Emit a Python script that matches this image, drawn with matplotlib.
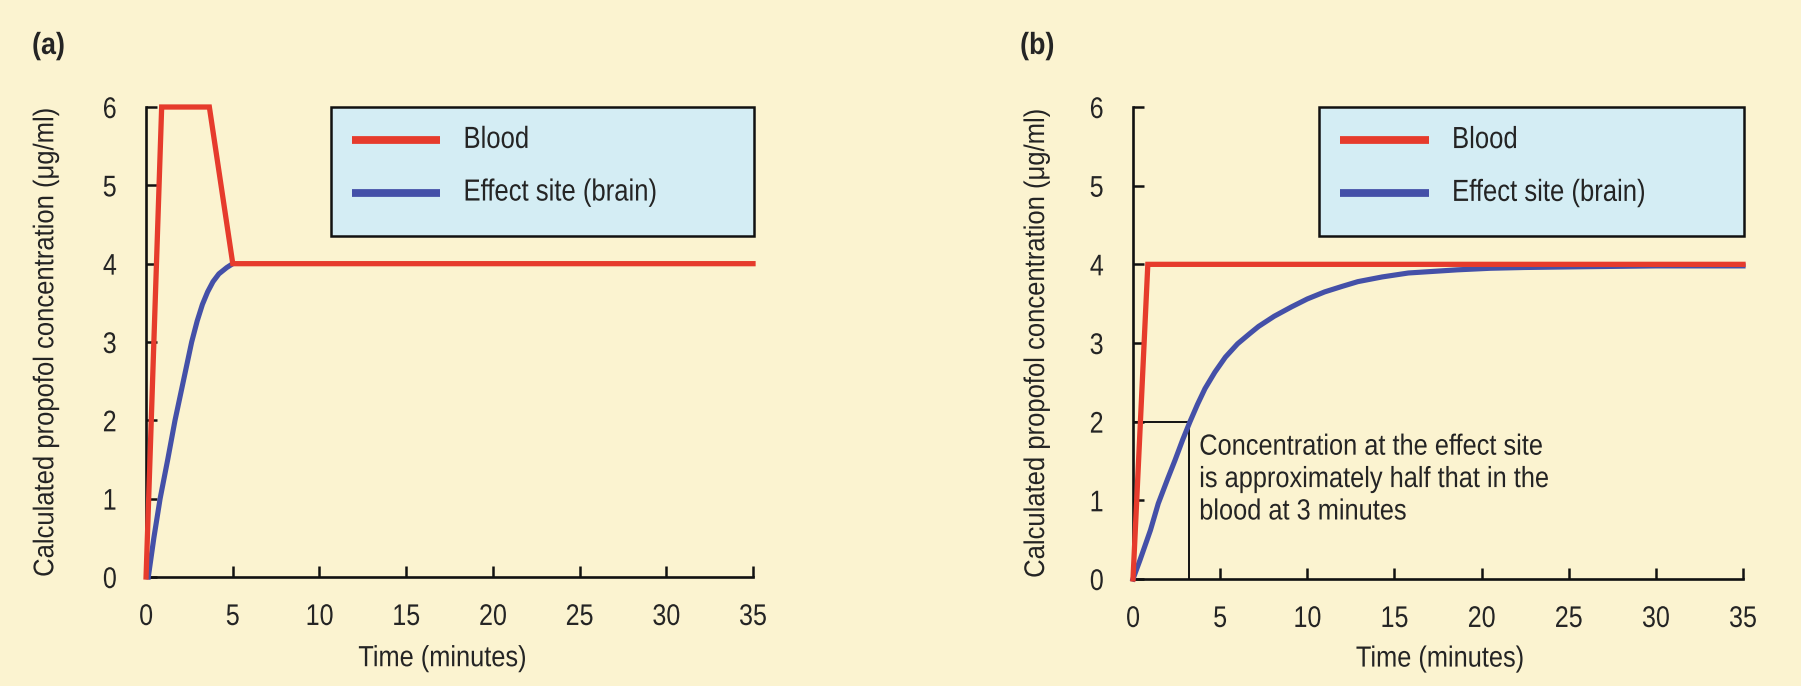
import matplotlib
matplotlib.use("Agg")
import matplotlib.pyplot as plt
from matplotlib.patches import Rectangle
from matplotlib.lines import Line2D
from matplotlib.patheffects import AbstractPathEffect
from matplotlib.transforms import Affine2D

# ---------------- data ----------------
x_ticks = [0, 5, 10, 15, 20, 25, 30, 35]
y_ticks = [0, 1, 2, 3, 4, 5, 6]

# panel (a)
a_blood_t = [0.0, 0.9, 3.65, 5.0, 35.0]
a_blood_c = [0.0, 6.0, 6.0, 4.0, 4.0]
a_effect_t = [0.13, 0.45, 0.81, 1.25, 1.67, 2.15, 2.63, 2.95, 3.25, 3.55, 3.86, 4.2, 4.65, 5.0]
a_effect_c = [0.0, 0.5, 1.0, 1.5, 2.0, 2.5, 3.0, 3.27, 3.48, 3.64, 3.77, 3.87, 3.95, 4.0]

# panel (b)
b_blood_t = [0.0, 0.85, 35.0]
b_blood_c = [0.0, 4.0, 4.0]
b_effect_t = [0.0, 0.4, 1.0, 1.45, 2.0, 2.41, 2.85, 3.27, 3.7, 4.13, 4.7, 5.3, 6.0, 6.7,
              7.2, 8.1, 9.1, 10.0, 11.0, 12.0, 12.9, 14.3, 15.8, 17.2, 18.6, 20.5, 22.5,
              26.0, 30.0, 35.0]
b_effect_c = [0.0, 0.24, 0.62, 0.96, 1.28, 1.51, 1.77, 2.0, 2.22, 2.42, 2.63, 2.82, 2.99,
              3.12, 3.21, 3.34, 3.46, 3.56, 3.65, 3.72, 3.78, 3.84, 3.89, 3.91, 3.93, 3.95,
              3.96, 3.97, 3.98, 3.98]

marker_t = 3.2
marker_c = 2.0

series_labels = ["Blood", "Effect site (brain)"]
annotation = "Concentration at the effect site\nis approximately half that in the\nblood at 3 minutes"
x_label = "Time (minutes)"
y_label = "Calculated propofol concentration (\u03bcg/ml)"
panel_labels = ["(a)", "(b)"]


# ---------------- style ----------------
class Condense(AbstractPathEffect):
    """Horizontally condense glyphs (narrow Helvetica look)."""

    def __init__(self, sx=0.86, align="left"):
        super().__init__()
        self.sx = sx
        self.align = align

    def draw_path(self, renderer, gc, tpath, affine, rgbFace=None):
        ext = tpath.get_extents()
        if self.align == "center":
            c = (ext.x0 + ext.x1) / 2.0
        elif self.align == "right":
            c = ext.x1
        else:
            c = 0.0
        pre = Affine2D().translate(-c, 0).scale(self.sx, 1.0).translate(c, 0)
        renderer.draw_path(gc, tpath, pre + affine, rgbFace)


plt.rcParams["font.family"] = ["Liberation Sans", "DejaVu Sans"]

BG = "#FBF3D0"
LEG_BG = "#D4EDF4"
RED = "#E63B2C"
BLUE = "#4450A8"
TXT = "#242424"

fig = plt.figure(figsize=(18.01, 6.86), dpi=100)
fig.patch.set_facecolor(BG)

axA = fig.add_axes([0.0811, 0.1589, 0.3370, 0.6851])
axB = fig.add_axes([0.6291, 0.1560, 0.3387, 0.6880])


def style_axes(ax, xlab, ylab):
    ax.set_facecolor(BG)
    ax.set_xlim(0, 35)
    ax.set_ylim(0, 6)
    ax.set_xticks(x_ticks)
    ax.set_yticks(y_ticks)
    for s in ["top", "right"]:
        ax.spines[s].set_visible(False)
    for s in ["left", "bottom"]:
        ax.spines[s].set_linewidth(1.9)
        ax.spines[s].set_color("#111111")
    ax.tick_params(axis="both", direction="in", length=8, width=1.8, colors="#111111",
                   labelsize=21.5, labelcolor=TXT)
    ax.tick_params(axis="y", pad=21)
    ax.tick_params(axis="x", pad=18.7)
    for t in ax.xaxis.get_major_ticks():
        t.label1.set_path_effects([Condense(0.84, "center")])
    for t in ax.yaxis.get_major_ticks():
        t.label1.set_path_effects([Condense(0.84, "right")])
    xl = ax.set_xlabel(x_label, fontsize=21, color=TXT)
    yl = ax.set_ylabel(y_label, fontsize=20.5, color=TXT)
    xl.set_path_effects([Condense(0.87, "center")])
    yl.set_path_effects([Condense(0.90, "center")])
    ax.xaxis.set_label_coords(xlab[0], xlab[1])
    ax.yaxis.set_label_coords(ylab[0], ylab[1])


def draw_legend(ax):
    ax.add_patch(Rectangle((0.305, 0.726), 0.697, 0.274, transform=ax.transAxes,
                           facecolor=LEG_BG, edgecolor="#111111", linewidth=1.8,
                           clip_on=False, zorder=5))
    for yy, col, lab in [(0.930, RED, series_labels[0]), (0.818, BLUE, series_labels[1])]:
        ax.add_line(Line2D([0.340, 0.485], [yy, yy], transform=ax.transAxes, color=col,
                           linewidth=5.6, solid_capstyle="butt", clip_on=False, zorder=6))
        ax.text(0.523, yy, lab, transform=ax.transAxes, fontsize=22, color=TXT,
                va="center", ha="left", zorder=6,
                path_effects=[Condense(0.84, "left")])


style_axes(axA, (0.488, -0.143), (-0.143, 0.5))
style_axes(axB, (0.503, -0.139), (-0.136, 0.5))

axA.plot(a_blood_t, a_blood_c, color=RED, linewidth=3.8, clip_on=False, zorder=4,
         solid_joinstyle="miter")
axA.plot(a_effect_t, a_effect_c, color=BLUE, linewidth=3.7, clip_on=False, zorder=3)

axB.plot([0, marker_t], [marker_c, marker_c], color="#111111", linewidth=1.4, zorder=2)
axB.plot([marker_t, marker_t], [0, marker_c], color="#111111", linewidth=1.4, zorder=2)
axB.plot(b_blood_t, b_blood_c, color=RED, linewidth=3.8, clip_on=False, zorder=4,
         solid_joinstyle="miter")
axB.plot(b_effect_t, b_effect_c, color=BLUE, linewidth=3.7, clip_on=False, zorder=3)
axB.text(3.8, 1.86, annotation, fontsize=21, color=TXT, va="top", ha="left",
         linespacing=1.2, path_effects=[Condense(0.87, "left")])

draw_legend(axA)
draw_legend(axB)

fig.text(0.0178, 0.933, panel_labels[0], fontsize=22, fontweight="bold", color=TXT,
         va="center", ha="left", path_effects=[Condense(0.88, "left")])
fig.text(0.5664, 0.933, panel_labels[1], fontsize=22, fontweight="bold", color=TXT,
         va="center", ha="left", path_effects=[Condense(0.88, "left")])

fig.savefig("out.png", dpi=100, facecolor=BG)
